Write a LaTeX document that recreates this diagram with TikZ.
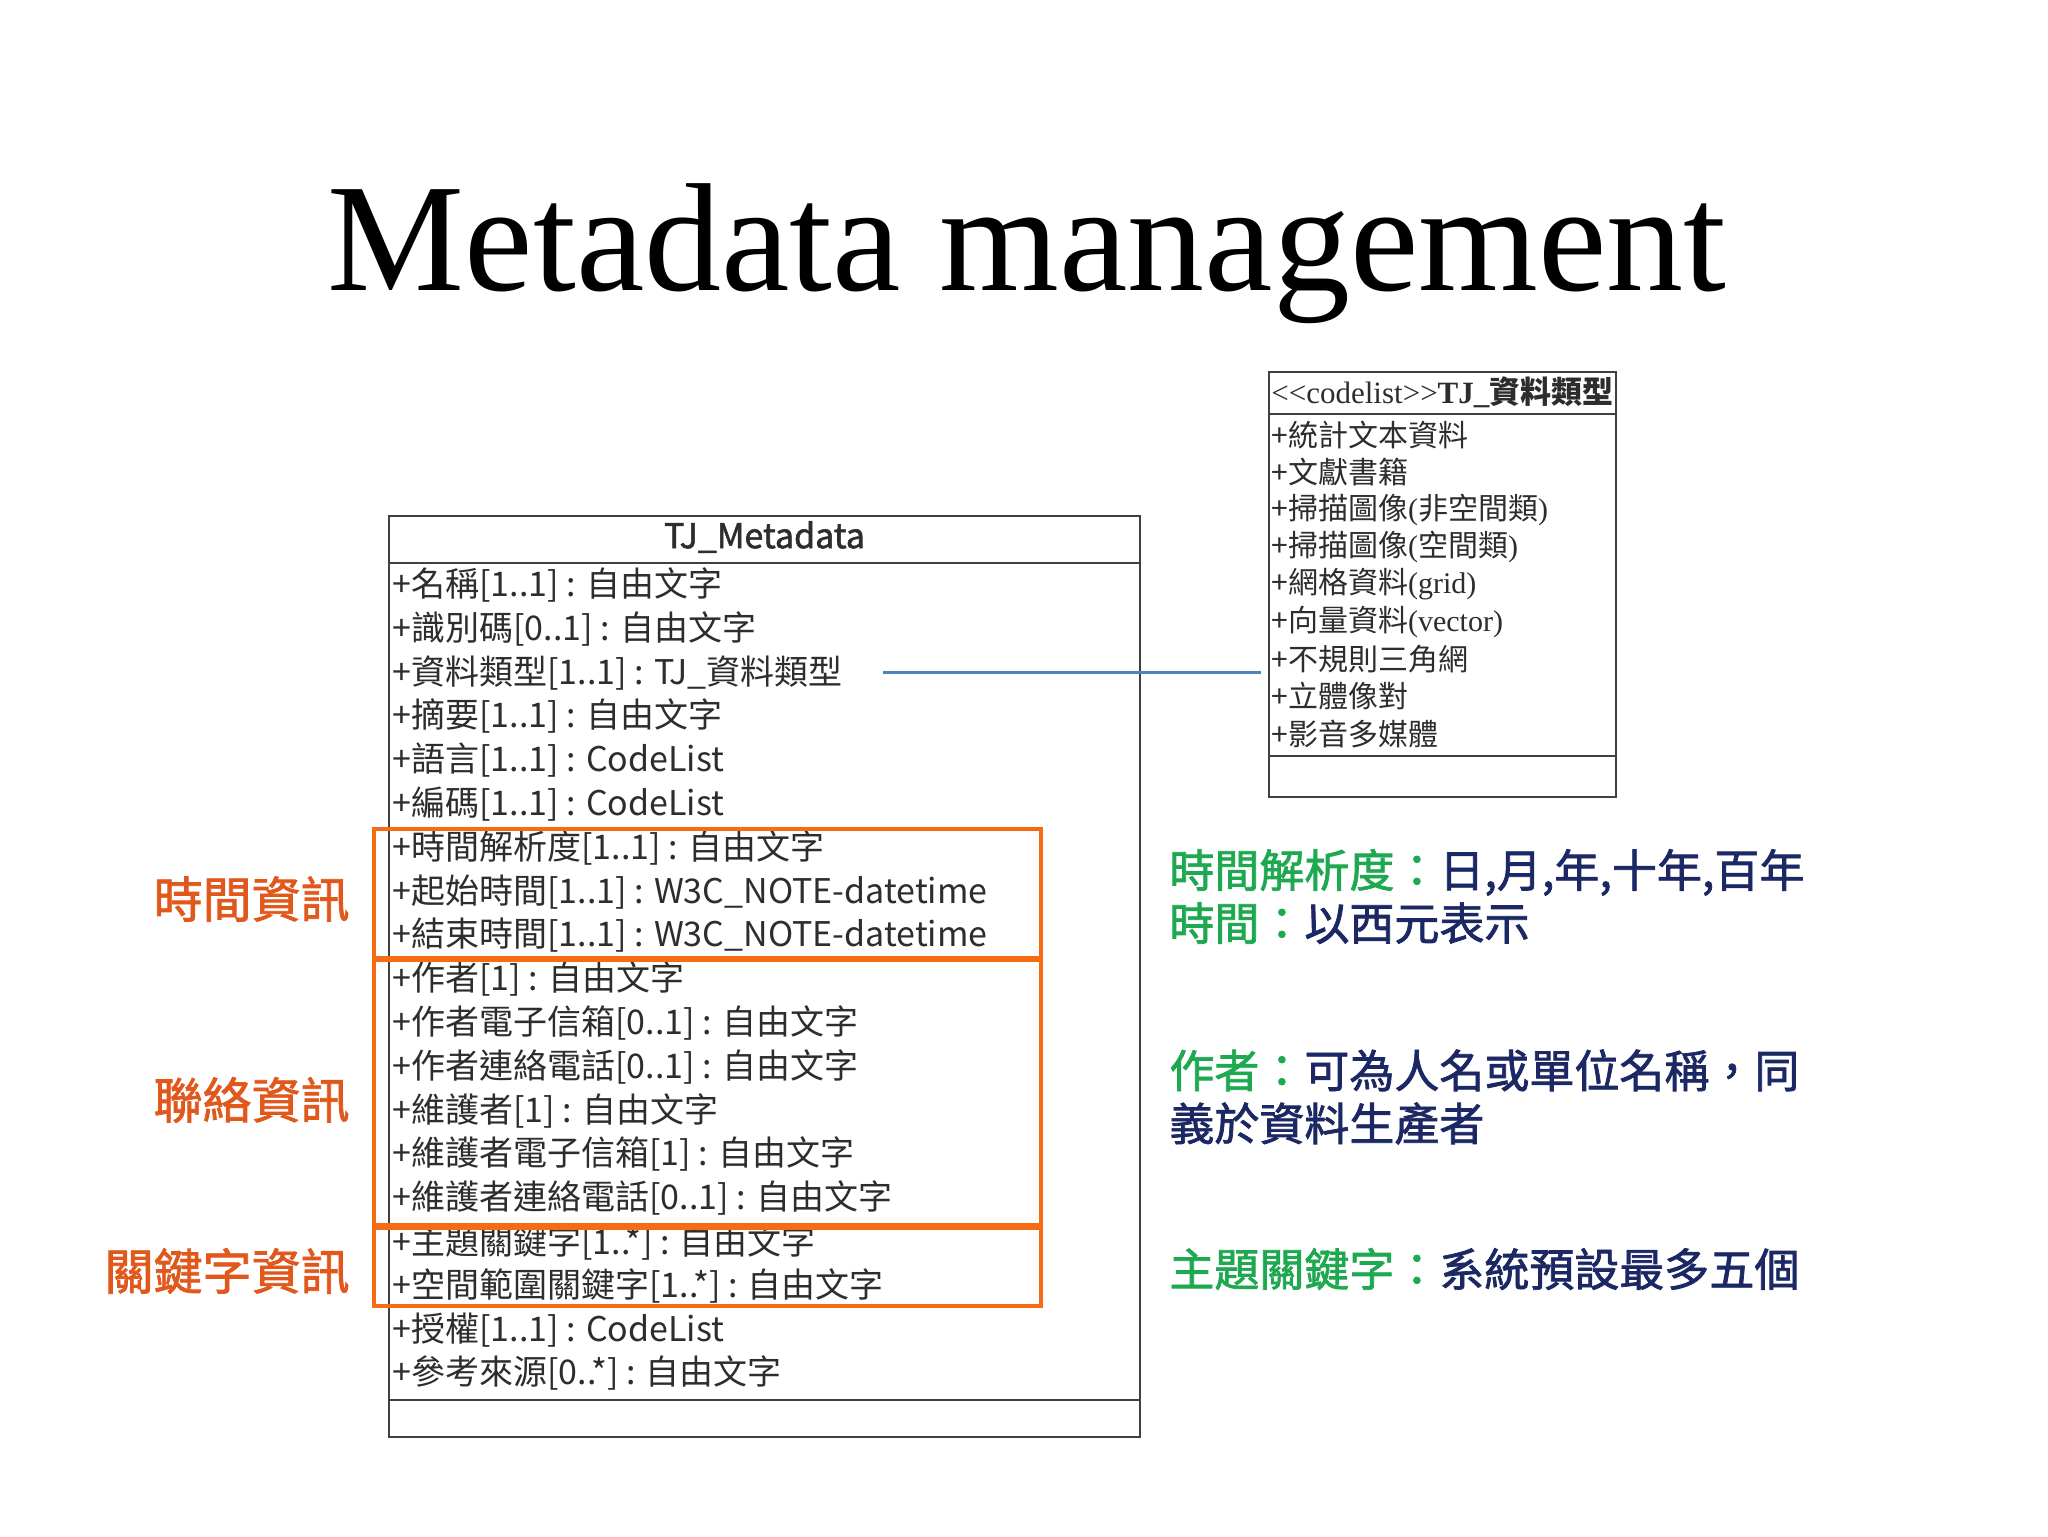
\documentclass[tikz,border=0pt]{standalone}
\usepackage{fontspec}
\setmainfont{Liberation Serif}
\newfontfamily\cjk{Noto Sans CJK TC}
\newfontfamily\cjkmed[FakeBold=1.6]{Noto Sans CJK TC}
\definecolor{boxgray}{RGB}{64,64,64}
\definecolor{rowgray}{RGB}{45,45,45}
\definecolor{grporange}{RGB}{247,108,18}
\definecolor{lblorange}{RGB}{224,88,28}
\definecolor{notegreen}{RGB}{30,168,80}
\definecolor{notenavy}{RGB}{28,40,100}
\definecolor{assocblue}{RGB}{79,129,189}
\tikzset{
  umlbox/.style={draw=boxgray, line width=1.3pt, fill=white, inner sep=0pt},
  umlline/.style={draw=boxgray, line width=1.3pt},
  row/.style={anchor=west, inner sep=0pt, text=rowgray, font=\cjk\fontsize{17}{20}\selectfont},
  clrow/.style={anchor=west, inner sep=0pt, text=rowgray, font=\cjk\fontsize{15}{18}\selectfont},
  grp/.style={draw=grporange, line width=2.2pt},
  grplabel/.style={anchor=east, inner sep=0pt, text=lblorange, font=\cjkmed\fontsize{24.5}{28}\selectfont},
  note/.style={anchor=west, inner sep=0pt, align=left, text=notenavy, font=\cjkmed\fontsize{22.5}{26.5}\selectfont},
  assoc/.style={draw=assocblue, line width=1.5pt}
}
\begin{document}
\begin{tikzpicture}[x=0.5pt,y=0.5pt,yscale=-1]
\path[use as bounding box, fill=white] (0,0) rectangle (2048,1536);

% Title
\draw (1027,290) node [anchor=base, inner sep=0pt, font=\fontsize{77}{80}\selectfont] (title) {Metadata management};

%Shape: Class TJ_Metadata
\node [umlbox, minimum width=375.5pt, minimum height=460.5pt] (meta) at (764.5,976.5) {};
\draw [umlline] (389,563) -- (1140,563) ;
\draw [umlline] (389,1400) -- (1140,1400) ;
% Text Node
\draw (764.5,537) node [inner sep=0pt, text=rowgray, font=\cjkmed\fontsize{17}{20}\selectfont] (metaname) {TJ\_Metadata};
% Text Node
\draw (392,585) node [row] (m1) {+名稱[1..1] : 自由文字};
% Text Node
\draw (392,628.8) node [row] (m2) {+識別碼[0..1] : 自由文字};
% Text Node
\draw (392,672.6) node [row] (m3) {+資料類型[1..1] : TJ\_資料類型};
% Text Node
\draw (392,716.4) node [row] (m4) {+摘要[1..1] : 自由文字};
% Text Node
\draw (392,760.2) node [row] (m5) {+語言[1..1] : CodeList};
% Text Node
\draw (392,804) node [row] (m6) {+編碼[1..1] : CodeList};
% Text Node
\draw (392,847.8) node [row] (m7) {+時間解析度[1..1] : 自由文字};
% Text Node
\draw (392,891.6) node [row] (m8) {+起始時間[1..1] : W3C\_NOTE-datetime};
% Text Node
\draw (392,935.4) node [row] (m9) {+結束時間[1..1] : W3C\_NOTE-datetime};
% Text Node
\draw (392,979.2) node [row] (m10) {+作者[1] : 自由文字};
% Text Node
\draw (392,1023) node [row] (m11) {+作者電子信箱[0..1] : 自由文字};
% Text Node
\draw (392,1066.8) node [row] (m12) {+作者連絡電話[0..1] : 自由文字};
% Text Node
\draw (392,1110.6) node [row] (m13) {+維護者[1] : 自由文字};
% Text Node
\draw (392,1154.4) node [row] (m14) {+維護者電子信箱[1] : 自由文字};
% Text Node
\draw (392,1198.2) node [row] (m15) {+維護者連絡電話[0..1] : 自由文字};
% Text Node
\draw (392,1243) node [row] (m16) {+主題關鍵字[1..*] : 自由文字};
% Text Node
\draw (392,1285.8) node [row] (m17) {+空間範圍關鍵字[1..*] : 自由文字};
% Text Node
\draw (392,1329.6) node [row] (m18) {+授權[1..1] : CodeList};
% Text Node
\draw (392,1373.4) node [row] (m19) {+參考來源[0..*] : 自由文字};

%Shape: Class TJ_資料類型
\node [umlbox, minimum width=173.5pt, minimum height=212.5pt] (tjtype) at (1442.5,584.5) {};
\draw [umlline] (1269,414) -- (1616,414) ;
\draw [umlline] (1269,756) -- (1616,756) ;
% Text Node
\draw (1442.5,392) node [inner sep=0pt, text=rowgray, font=\fontsize{15.5}{18}\selectfont] (tjname) {<{}<codelist>{}>\textbf{TJ\_}{\cjk\bfseries 資料類型}};
% Text Node
\draw (1271,435) node [clrow] (c1) {+統計文本資料};
% Text Node
\draw (1271,472.4) node [clrow] (c2) {+文獻書籍};
% Text Node
\draw (1271,509.7) node [clrow] (c3) {+掃描圖像{\rmfamily(}非空間類{\rmfamily)}};
% Text Node
\draw (1271,547.1) node [clrow] (c4) {+掃描圖像{\rmfamily(}空間類{\rmfamily)}};
% Text Node
\draw (1271,584.4) node [clrow] (c5) {+網格資料{\rmfamily(grid)}};
% Text Node
\draw (1271,621.8) node [clrow] (c6) {+向量資料{\rmfamily(vector)}};
% Text Node
\draw (1271,659.1) node [clrow] (c7) {+不規則三角網};
% Text Node
\draw (1271,696.5) node [clrow] (c8) {+立體像對};
% Text Node
\draw (1271,733.8) node [clrow] (c9) {+影音多媒體};

% Association
\coordinate (a3) at (883,672.6);
\draw [assoc, shorten >=3.5pt] (a3) -- (a3 -| tjtype.west) ;

%Shape: Groups
\draw [grp] (374,829) rectangle (1041,958) ;
\draw [grp] (374,960) rectangle (1041,1225) ;
\draw [grp] (374,1228) rectangle (1041,1306) ;
% Text Node
\draw (350,899) node [grplabel] (gtime) {時間資訊};
% Text Node
\draw (350,1100) node [grplabel] (gcontact) {聯絡資訊};
% Text Node
\draw (350,1271) node [grplabel] (gkey) {關鍵字資訊};

% Notes
\draw (1169,896.5) node [note] (ntime) {{\color{notegreen}時間解析度：}日,月,年,十年,百年\\{\color{notegreen}時間：}以西元表示};
% Text Node
\draw (1169,1097) node [note] (nauthor) {{\color{notegreen}作者：}可為人名或單位名稱，同\\義於資料生產者};
% Text Node
\draw (1169,1269) node [note] (nkey) {{\color{notegreen}主題關鍵字：}系統預設最多五個};
\end{tikzpicture}
\end{document}
